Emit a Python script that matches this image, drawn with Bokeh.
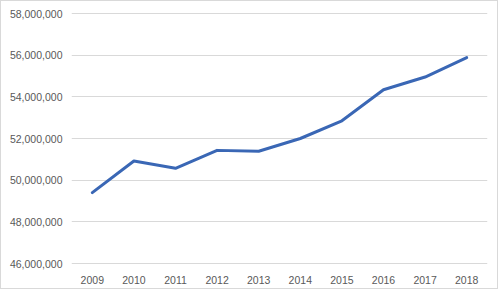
from bokeh.plotting import figure
from bokeh.models import FactorRange, Range1d, NumeralTickFormatter, FixedTicker
from bokeh.embed import file_html
from bokeh.resources import INLINE

years = ["2009", "2010", "2011", "2012", "2013", "2014", "2015", "2016", "2017", "2018"]
population = [49400000, 50920000, 50570000, 51430000, 51390000, 52000000,
              52850000, 54340000, 54950000, 55880000]
y_ticks = [46000000, 48000000, 50000000, 52000000, 54000000, 56000000, 58000000]

p = figure(width=498, height=289, x_range=FactorRange(*years, range_padding=0),
           y_range=Range1d(45952000, 58048000),
           output_backend="svg", toolbar_location=None,
           min_border_left=70, min_border_right=12, min_border_top=11, min_border_bottom=26,
           styles={"border": "1px solid #d9d9d9"})

p.line(years, population, line_color="#3A67B5", line_width=3, line_join="round", line_cap="round")

p.outline_line_color = None
p.background_fill_color = "white"
p.border_fill_color = "white"
p.xgrid.grid_line_color = None
p.ygrid.grid_line_color = "#d9d9d9"
p.ygrid.grid_line_width = 1
p.yaxis.ticker = FixedTicker(ticks=y_ticks)
p.yaxis.formatter = NumeralTickFormatter(format="0,0")

for ax in (p.xaxis, p.yaxis):
    ax.axis_line_color = None
    ax.major_tick_line_color = None
    ax.minor_tick_line_color = None
    ax.major_tick_out = 0
    ax.major_tick_in = 0
    ax.major_label_text_font = "Liberation Sans"
    ax.major_label_text_font_size = "10.5px"
    ax.major_label_text_color = "#595959"

p.yaxis.major_label_standoff = 9
p.xaxis.major_label_standoff = 11

open("out.html", "w").write(file_html(p, INLINE))
